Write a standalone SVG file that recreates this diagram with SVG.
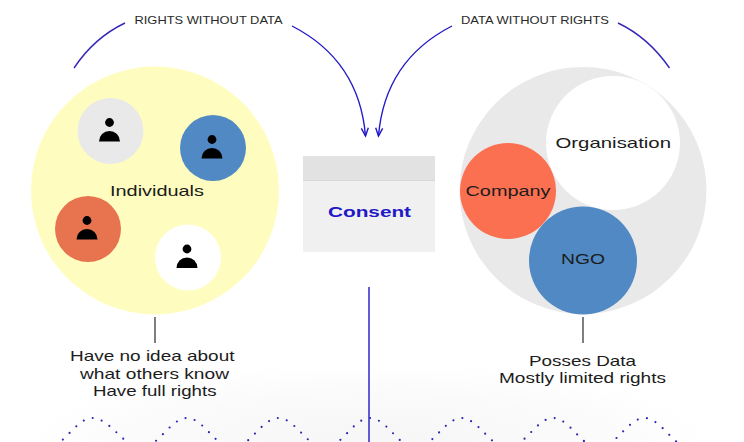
<svg xmlns="http://www.w3.org/2000/svg" width="744" height="442" viewBox="0 0 744 442">
<style>
text{font-family:"Liberation Sans",Arial,sans-serif;fill:#1c1c1c;font-size:15px;text-anchor:start}
.cap{font-size:11.5px;fill:#2a2a2a}
.arc{fill:none;stroke:#3428b8;stroke-width:1.4}
.flow{fill:none;stroke:#2218c8;stroke-width:1.4}
.stem{fill:none;stroke:#555;stroke-width:1.5}
.dots{fill:none;stroke:#2a2ab0;stroke-width:2.2;stroke-linecap:round;stroke-dasharray:0 9.4}
</style>
<defs>
<radialGradient id="glow"><stop offset="0" stop-color="#f6f6f6"/><stop offset="0.6" stop-color="#fafafa"/><stop offset="1" stop-color="#ffffff"/></radialGradient>
<marker id="open" markerUnits="userSpaceOnUse" markerWidth="14" markerHeight="14" refX="11" refY="7" orient="auto"><path d="M3 3.500 L11 7 L3 10.500" fill="none" stroke="#2218c8" stroke-width="1.4"/></marker>
<g id="person"><circle cx="-1" cy="-8.500" r="4.400" fill="#000"/><path d="M-11.500 10.500 A10.500 10.500 0 0 1 9.500 10.500 Z" fill="#000"/></g>
</defs>
<rect width="744" height="442" fill="#fff"/>
<ellipse cx="370" cy="445" rx="345" ry="82" fill="url(#glow)"/>
<g id="connectors">
<path class="arc" d="M74 68 C88 47 104 33 125 23"/>
<path class="arc" d="M618 23 C639 33 655 47 669.500 68"/>
<path class="flow" marker-end="url(#open)" d="M292 26 C333 47 361 82 365.500 136"/>
<path class="flow" marker-end="url(#open)" d="M452 26 C411 47 383 82 378.500 136"/>
<path class="stem" d="M155 317 V343"/>
<path class="stem" d="M583 317 V343"/>
<path d="M369 287 V442" fill="none" stroke="#2218c8" stroke-width="1.400"/>
<path class="dots" d="M46.500 448 C63 448 76 418 92.500 418 C110 418 124.500 448 141 448 C157.700 448 170.500 418 187 418 C203.500 418 216 448 232.700 448 C249 448 262 418 278.500 418 C295 418 308 448 324.300 448 C341 448 353.500 418 370 418 C386.500 418 399 448 415.700 448 C432 448 445 418 461.500 418 C478 418 491 448 507.300 448 C524 448 536.500 418 553 418 C569.500 418 582 448 598.700 448 C615 448 628 418 644.500 418 C661 418 674 448 690 448"/>
</g>
<g id="individuals"><circle cx="155" cy="190.500" r="124" fill="#fefdbf"/><text x="110" y="196" textLength="94" lengthAdjust="spacingAndGlyphs">Individuals</text></g>
<g id="person-gray"><circle cx="110.500" cy="131" r="33" fill="#e9e9e9"/><use href="#person" x="110.500" y="131"/></g>
<g id="person-blue"><circle cx="213" cy="148" r="33" fill="#5089c3"/><use href="#person" x="213" y="148"/></g>
<g id="person-red"><circle cx="88" cy="229" r="33" fill="#e8734f"/><use href="#person" x="88" y="229"/></g>
<g id="person-white"><circle cx="188" cy="257.500" r="33" fill="#fff"/><use href="#person" x="188" y="257.500"/></g>
<g id="consent"><rect x="303" y="156" width="132" height="96" fill="#f0f0f0"/><rect x="303" y="156" width="132" height="24" fill="#e2e2e2"/><path d="M303 180.500 H435" stroke="#d8d8d8" stroke-width="1"/><text x="328" y="217" textLength="83" lengthAdjust="spacingAndGlyphs" font-weight="700" style="fill:#2218c8">Consent</text></g>
<g id="data-holders"><circle cx="583" cy="190.500" r="123.500" fill="#e9e9e9"/></g>
<g id="organisation"><circle cx="613" cy="143" r="67" fill="#fff"/><text x="555.500" y="148" textLength="115.500" lengthAdjust="spacingAndGlyphs">Organisation</text></g>
<g id="company"><circle cx="508" cy="191" r="48" fill="#fa7050"/><text x="465.500" y="196" textLength="85" lengthAdjust="spacingAndGlyphs">Company</text></g>
<g id="ngo"><circle cx="583" cy="260.500" r="54" fill="#5089c3"/><text x="561" y="264" textLength="44" lengthAdjust="spacingAndGlyphs">NGO</text></g>
<g id="labels">
<text class="cap" x="134.500" y="24" textLength="148" lengthAdjust="spacingAndGlyphs">RIGHTS WITHOUT DATA</text>
<text class="cap" x="461" y="24" textLength="148" lengthAdjust="spacingAndGlyphs">DATA WITHOUT RIGHTS</text>
<text x="70" y="361" textLength="164.500" lengthAdjust="spacingAndGlyphs">Have no idea about</text>
<text x="80" y="379" textLength="149" lengthAdjust="spacingAndGlyphs">what others know</text>
<text x="93" y="396" textLength="123.500" lengthAdjust="spacingAndGlyphs">Have full rights</text>
<text x="529" y="366" textLength="107" lengthAdjust="spacingAndGlyphs">Posses Data</text>
<text x="499" y="383" textLength="167" lengthAdjust="spacingAndGlyphs">Mostly limited rights</text>
</g>
</svg>
